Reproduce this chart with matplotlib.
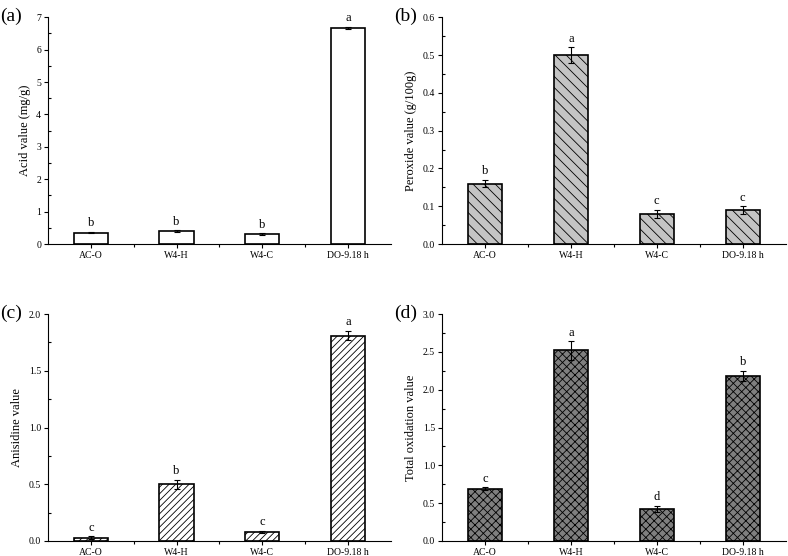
import matplotlib
matplotlib.use("Agg")
import matplotlib.pyplot as plt
from matplotlib.ticker import MultipleLocator, FixedLocator

plt.rcParams['font.family'] = ['Liberation Serif', 'DejaVu Serif']
plt.rcParams['hatch.linewidth'] = 0.6

categories = ["AC-O", "W4-H", "W4-C", "DO-9.18 h"]

acid_values = [0.35, 0.40, 0.31, 6.67]
acid_err = [0.02, 0.02, 0.02, 0.03]
acid_letters = ["b", "b", "b", "a"]

peroxide_values = [0.16, 0.50, 0.08, 0.09]
peroxide_err = [0.01, 0.02, 0.01, 0.01]
peroxide_letters = ["b", "a", "c", "c"]

anisidine_values = [0.03, 0.50, 0.08, 1.81]
anisidine_err = [0.01, 0.04, 0.01, 0.04]
anisidine_letters = ["c", "b", "c", "a"]

totox_values = [0.69, 2.52, 0.42, 2.18]
totox_err = [0.02, 0.12, 0.04, 0.07]
totox_letters = ["c", "a", "d", "b"]

fig = plt.figure(figsize=(7.88, 5.56), dpi=100)

panels = [
    dict(rect=[0.061, 0.561, 0.435, 0.408], vals=acid_values, err=acid_err, let=acid_letters,
         ylabel="Acid value (mg/g)", ymax=7, major=1, minor=0.5, fmt="{:.0f}",
         face="white", hatch=None, tag="(a)"),
    dict(rect=[0.561, 0.561, 0.436, 0.408], vals=peroxide_values, err=peroxide_err, let=peroxide_letters,
         ylabel="Peroxide value (g/100g)", ymax=0.6, major=0.1, minor=0.05, fmt="{:.1f}",
         face="#c4c4c4", hatch="\\\\\\", tag="(b)"),
    dict(rect=[0.061, 0.027, 0.435, 0.408], vals=anisidine_values, err=anisidine_err, let=anisidine_letters,
         ylabel="Anisidine value", ymax=2.0, major=0.5, minor=0.25, fmt="{:.1f}",
         face="white", hatch="/////", tag="(c)"),
    dict(rect=[0.561, 0.027, 0.436, 0.408], vals=totox_values, err=totox_err, let=totox_letters,
         ylabel="Total oxidation value", ymax=3.0, major=0.5, minor=0.25, fmt="{:.1f}",
         face="#7f7f7f", hatch="xxxx", tag="(d)"),
]

x = list(range(1, len(categories) + 1))
for p in panels:
    ax = fig.add_axes(p["rect"])
    ax.bar(x, p["vals"], width=0.4, color=p["face"], edgecolor="black", linewidth=1.2,
           hatch=p["hatch"], zorder=2)
    ax.errorbar(x, p["vals"], yerr=p["err"], fmt="none", ecolor="black", elinewidth=0.8,
                capsize=2.5, capthick=0.8, zorder=3)
    for xi, v, e, l in zip(x, p["vals"], p["err"], p["let"]):
        ax.text(xi, v + e + p["ymax"] * 0.012, l, ha="center", va="bottom", fontsize=9)
    ax.set_xlim(0.5, 4.5)
    ax.set_ylim(0, p["ymax"])
    ax.set_xticks(x)
    ax.set_xticklabels(categories, fontsize=7)
    ax.xaxis.set_minor_locator(FixedLocator([1.5, 2.5, 3.5]))
    ax.yaxis.set_major_locator(MultipleLocator(p["major"]))
    ax.yaxis.set_minor_locator(MultipleLocator(p["minor"]))
    ax.set_yticklabels([p["fmt"].format(t) for t in ax.get_yticks()], fontsize=7)
    ax.tick_params(axis="both", which="major", direction="out", length=3, width=0.8, pad=2)
    ax.tick_params(axis="x", which="minor", direction="out", length=2, width=0.8)
    ax.tick_params(axis="y", which="minor", direction="in", length=2, width=0.8)
    for s in ["top", "right"]:
        ax.spines[s].set_visible(False)
    for s in ["left", "bottom"]:
        ax.spines[s].set_linewidth(0.8)
    ax.set_ylabel(p["ylabel"], fontsize=9, labelpad=4)
    ax.patch.set_alpha(0)
    l, b, w, h = p["rect"]
    fig.text(l - 0.061, b + h + 0.002, p["tag"], fontsize=14, ha="left", va="center")

fig.savefig("out.png", dpi=100)
